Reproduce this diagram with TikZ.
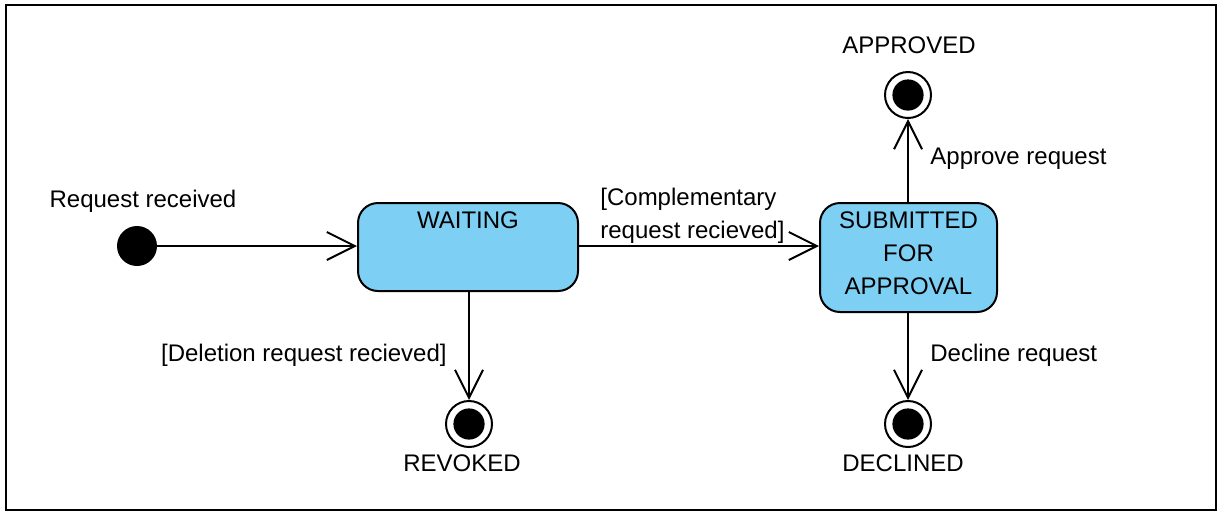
\documentclass[tikz,border=0pt]{standalone}
\usepackage{fontspec}
\setmainfont{Liberation Sans}
\usetikzlibrary{arrows.meta}
\definecolor{statefill}{HTML}{7ECFF4}
\begin{document}
\begin{tikzpicture}[x=0.5pt,y=-0.5pt,
  every node/.style={font=\fontsize{12}{16.5}\selectfont},
  every label/.style={font=\fontsize{12}{16.5}\selectfont},
  statebox/.style={draw, line width=1pt, fill=statefill, rounded corners=10pt, inner sep=0pt},
  initstate/.style={circle, fill=black, inner sep=0pt, minimum size=20pt},
  finalstate/.style={circle, draw, line width=1pt, inner sep=0pt, minimum size=23pt,
    path picture={\fill (path picture bounding box.center) circle (7.8pt);}},
  trans/.style={draw, line width=1pt, -{Straight Barb[length=14pt,width=14pt,line width=1pt]}},
  txt/.style={inner sep=0pt}
]
\useasboundingbox (0,0) rectangle (1224,516);
\draw[line width=1.1pt] (6,5) rectangle (1216,510);

\node[initstate] (init) at (137,246) {};
\node[txt, anchor=base] (initlbl) at (143,207) {Request received};

\node[statebox, minimum width=110pt, minimum height=44pt,
  label={[anchor=base, inner sep=0pt, yshift=-13pt]north:WAITING}] (wait) at (468,247) {};

\node[statebox, minimum width=88.5pt, minimum height=54.5pt,
  label={[align=center, inner sep=0pt, yshift=2pt]center:SUBMITTED\\FOR\\APPROVAL}] (sub) at (908.5,257.5) {};

\node[finalstate] (revoked) at (469,424) {};
\node[finalstate] (approved) at (908,95) {};
\node[finalstate] (declined) at (908,424) {};

\node[txt, anchor=base] (revlbl) at (462,471) {REVOKED};
\node[txt, anchor=base] (applbl) at (909,53) {APPROVED};
\node[txt, anchor=base] (declbl) at (903,471) {DECLINED};

\coordinate (waitin) at (wait.west |- init);
\coordinate (subin) at (sub.west |- init);
\draw[trans] (init) -- (waitin);
\draw[trans] (wait.east |- init) -- (subin);
\draw[trans] (wait.south -| revoked) -- (revoked);
\draw[trans] (sub.north -| approved) -- (approved);
\draw[trans] (sub.south -| declined) -- (declined);

\node[txt, anchor=west, align=left] (complbl) at (600,216) {[Complementary\\request recieved]};
\node[txt, anchor=base east] (dellbl) at (447,361) {[Deletion request recieved]};
\node[txt, anchor=base west] (applbl2) at (930,164) {Approve request};
\node[txt, anchor=base west] (declbl2) at (930,361) {Decline request};
\end{tikzpicture}
\end{document}
